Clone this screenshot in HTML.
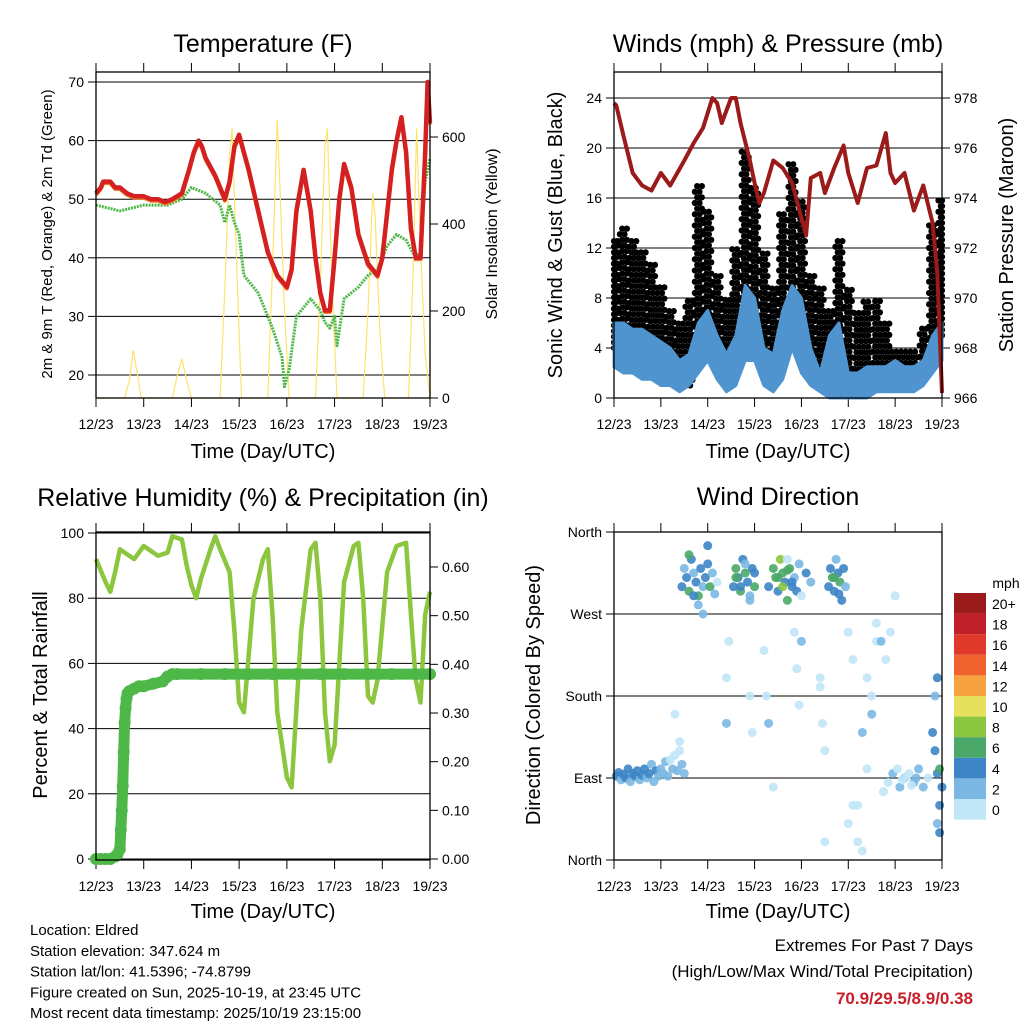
<!DOCTYPE html>
<html><head><meta charset="utf-8"><style>
body{margin:0;background:#fff}
svg{display:block;font-family:"Liberation Sans",Arial,sans-serif}
</style></head><body>
<svg id="c" width="1024" height="1024" viewBox="0 0 1024 1024" xmlns="http://www.w3.org/2000/svg">
<rect width="1024" height="1024" fill="#fff"/>
</svg>
<script>
// ---------- DATA ----------
const dayLabels=["12/23","13/23","14/23","15/23","16/23","17/23","18/23","19/23"];
const tempT=[0,0.1,0.15,0.3,0.4,0.5,0.65,0.8,1.0,1.15,1.3,1.45,1.6,1.8,1.95,2.05,2.15,2.22,2.3,2.5,2.6,2.7,2.8,2.9,3.0,3.1,3.2,3.4,3.6,3.8,4.0,4.1,4.2,4.35,4.5,4.6,4.7,4.8,4.9,5.0,5.1,5.2,5.35,5.5,5.7,5.9,6.0,6.2,6.3,6.4,6.5,6.6,6.7,6.8,6.9,6.95,7.0];
const tempV=[51,52,53,53,52,52,51,50.5,50.5,50,50,49.5,50,51,55,58,60,59,57,54,52,50,53,59,61,58,55,48,41,37,35,38,48,55,48,40,34,31,31,40,50,56,52,44,39,37,40,55,60,64,58,45,40,40,58,70,63];
const dewT=[0,0.5,1.0,1.5,1.8,2.0,2.3,2.6,2.7,2.8,2.9,3.0,3.1,3.4,3.7,3.9,3.95,4.05,4.2,4.5,4.7,4.8,4.9,5.0,5.05,5.2,5.5,5.7,5.9,6.1,6.3,6.5,6.7,6.8,6.9,7.0];
const dewV=[49,48,49,49,50,52,51,49,46,49,46,44,37,34,28,23,18,21,30,33,31,29,28,30,25,33,35,37,38,42,44,43,40,41,53,57];
const solarT=[0,0.6,0.7,0.78,0.86,0.95,1.6,1.7,1.8,1.9,2.0,2.6,2.7,2.8,2.85,2.95,3.05,3.6,3.7,3.8,3.85,3.95,4.05,4.6,4.7,4.8,4.85,4.95,5.05,5.6,5.7,5.8,5.85,5.95,6.05,6.55,6.65,6.72,6.8,6.9,7.0];
const solarV=[0,0,40,110,60,0,0,50,90,40,0,0,250,560,620,300,0,0,300,640,500,200,0,0,260,580,620,250,0,0,200,470,420,150,0,0,300,620,350,100,0];
const windT=[0,0.2,0.4,0.6,0.8,1.0,1.2,1.4,1.6,1.8,2.0,2.2,2.4,2.6,2.8,3.0,3.2,3.4,3.6,3.8,4.0,4.2,4.4,4.6,4.8,5.0,5.2,5.4,5.6,5.8,6.0,6.2,6.4,6.6,6.8,7.0];
const gustLo=[4,5,4,4,3,3,2,1,1,3,5,3,2,2,8,6,3,2,3,7,4,3,2,2,4,1,0.5,0.5,1,1,1,1,1,1.5,3,5];
const gustHi=[13,14,13,12,11,9,7,6,8,17,15,10,8,12,20,17,12,9,15,19,16,10,9,7,13,9,7,8,8,6,4,4,4,6,14,16];
const windLo=[2.5,2,2,1.5,1.5,1,1,0.5,1,2,3,1.5,0.5,1,3,3,1,0.5,1.5,4,2,1,0.5,0,0,0,0,0,0.5,0.5,0.5,0.5,0.5,1,2,3];
const windHi=[6,6,5.5,5.5,5,4.5,4,3,3.5,6,7,5,3.5,5,9,8,4,3.5,7,9,8,4,2,5,6,2,2,2.5,2.5,2.5,3,2.5,2.5,3,5,6];
const presT=[0,0.05,0.2,0.4,0.6,0.8,1.0,1.2,1.5,1.7,1.9,2.1,2.2,2.3,2.5,2.6,2.7,2.9,3.0,3.1,3.2,3.4,3.6,3.8,4.0,4.1,4.2,4.4,4.5,4.7,4.9,5.0,5.2,5.4,5.6,5.8,5.9,6.0,6.2,6.4,6.6,6.8,6.9,7.0];
const presV=[977.8,977.7,976.5,975,974.5,974.3,975,974.5,975.5,976.2,976.8,978,977.8,977,978,978,977,975.5,974.6,973.8,974.2,975.5,975.2,974.6,973.2,972.5,974.8,975,974.2,975.2,976.1,975,973.8,975.2,975.3,976.6,975,974.6,975,973.5,974.5,973,971,966.2];
const rhT=[0,0.2,0.3,0.4,0.5,0.8,1.0,1.3,1.5,1.6,1.8,1.9,2.0,2.1,2.2,2.4,2.5,2.6,2.8,2.9,3.0,3.1,3.3,3.5,3.6,3.7,3.8,4.0,4.1,4.3,4.5,4.6,4.7,4.8,4.9,5.0,5.2,5.4,5.5,5.6,5.7,5.8,5.9,6.1,6.3,6.5,6.6,6.7,6.8,6.9,7.0];
const rhV=[92,85,82,88,95,92,96,93,94,99,98,90,84,80,86,95,99,95,88,70,48,45,80,92,95,75,45,25,22,70,95,97,80,45,30,35,85,96,97,80,50,48,55,88,96,97,75,55,48,75,82];
const pcpT=[0,0.1,0.2,0.3,0.4,0.45,0.5,0.52,0.54,0.56,0.58,0.6,0.62,0.64,0.66,0.7,0.8,0.9,1.0,1.2,1.4,1.5,1.6,1.7,2.2,2.7,3.2,3.7,4.2,4.7,5.2,5.7,6.2,6.7,7.0];
const pcpV=[0,0,0,0,0.005,0.01,0.02,0.06,0.1,0.15,0.22,0.28,0.31,0.33,0.34,0.345,0.35,0.355,0.355,0.36,0.365,0.375,0.38,0.38,0.38,0.38,0.38,0.38,0.38,0.38,0.38,0.38,0.38,0.38,0.38];
const dirT=[0.05,0.1,0.15,0.2,0.25,0.3,0.35,0.4,0.45,0.5,0.55,0.6,0.65,0.7,0.75,0.8,0.85,0.9,0.95,1.0,1.05,1.1,1.15,1.2,1.25,1.3,1.35,1.4,1.45,1.5,
1.45,1.5,1.55,1.6,1.65,1.7,1.75,1.8,1.85,1.9,1.95,2.0,2.05,2.1,2.15,2.2,1.6,1.7,1.8,1.9,2.0,
2.55,2.6,2.65,2.7,2.75,2.8,2.85,2.9,2.95,3.0,2.6,2.7,2.8,2.9,3.0,
3.3,3.4,3.45,3.5,3.55,3.6,3.65,3.7,3.75,3.8,3.85,3.9,3.95,4.0,4.1,4.2,3.5,3.6,3.7,3.8,
4.58,4.62,4.66,4.7,4.74,4.78,4.82,4.86,4.9,4.94,4.7,4.8,
1.3,1.4,2.4,2.4,2.45,3.2,3.25,3.3,3.9,3.95,4.0,4.4,4.45,4.5,5.0,5.1,5.2,5.3,5.4,5.5,5.6,5.3,5.4,5.5,
5.6,5.7,5.8,5.9,6.0,6.1,6.2,6.3,6.4,6.5,6.6,6.7,5.75,5.85,5.95,6.05,6.15,6.25,6.35,6.45,
6.8,6.85,6.9,6.95,6.9,6.95,7.0,6.85,6.9,6.95,3.7,3.85,4.5,5.0,5.1,5.2,2.9,2.95,3.4,4.4];
const dirD=[92,96,88,94,90,100,86,95,92,98,88,93,100,90,95,105,86,98,92,100,95,108,92,110,100,115,98,120,105,95,
300,320,310,295,330,315,305,290,320,300,310,325,300,315,292,305,335,290,280,270,345,
300,320,310,295,330,315,305,285,320,300,310,300,325,290,315,
300,320,310,295,330,315,305,285,320,300,310,295,325,290,315,305,310,300,318,305,
300,320,310,295,330,315,305,285,320,300,310,292,
160,130,200,150,240,230,180,150,210,170,240,190,150,120,250,220,60,140,200,180,240,10,100,160,
260,240,220,250,290,80,90,95,85,100,80,90,75,85,95,100,88,92,82,90,
140,180,200,60,95,100,80,120,40,30,330,250,20,40,60,20,180,140,80,200];
const dirS=[4,4,3,5,4,4,3,4,5,4,3,4,4,3,4,2,3,4,3,2,2,2,3,1,2,1,2,1,2,3,
4,3,5,6,4,3,5,6,4,3,4,5,6,3,2,1,7,5,3,2,4,
5,6,4,7,5,6,4,3,5,7,6,5,2,3,4,
5,7,6,4,8,7,5,6,7,4,3,5,2,1,4,3,7,8,6,5,
4,5,6,4,3,5,6,4,5,3,6,5,
1,0,1,2,0,0,1,2,1,0,2,1,0,1,1,0,1,2,0,1,1,0,0,2,
1,2,1,0,1,2,3,1,2,3,2,1,0,1,2,1,0,1,1,2,
4,3,4,5,4,6,5,4,3,4,1,0,1,0,0,1,0,1,0,1];
const scaleLabels=["20+","18","16","14","12","10","8","6","4","2","0"];
const scaleColors=["#9b1b1b","#c0202a","#e0382a","#f0622e","#f6a33f","#e7e05c","#8cc63f","#4aa868","#3d85c6","#7ab8e3","#c1e6f8"];

// ---------- HELPERS ----------
const svg=document.getElementById('c');
const NS='http://www.w3.org/2000/svg';
function el(tag,attrs,parent,text){const e=document.createElementNS(NS,tag);for(const k in attrs)e.setAttribute(k,attrs[k]);if(text!==undefined)e.textContent=text;(parent||svg).appendChild(e);return e;}
function panel(x0,x1,y0,y1){return {x0,x1,y0,y1,x:d=>x0+(x1-x0)*d/7};}
function linear(v0,p0,v1,p1){return v=>p0+(v-v0)*(p1-p0)/(v1-v0);}
function pathD(xs,ys){return xs.map((x,i)=>(i?'L':'M')+x.toFixed(1)+','+ys[i].toFixed(1)).join('');}
function frame(P,name,title,titleY,xlabelY){
  const t=el('text',{x:(P.x0+P.x1)/2,y:titleY,'text-anchor':'middle','font-size':25},svg,title);
  
  
  dayLabels.forEach((lab,i)=>{
    const x=P.x(i);
    el('line',{x1:x,x2:x,y1:P.y1,y2:P.y1+9,stroke:'#000','stroke-width':1},svg);
    el('line',{x1:x,x2:x,y1:P.y0,y2:P.y0-9,stroke:'#000','stroke-width':1},svg);
    const tl=el('text',{x:x,y:P.y1+31,'text-anchor':'middle','font-size':14},svg,lab);
    
    
  });
  const xl=el('text',{x:(P.x0+P.x1)/2,y:xlabelY,'text-anchor':'middle','font-size':20},svg,'Time (Day/UTC)');
  
  
}
function yTicks(P,vals,fy,side,fmt,grid){
  vals.forEach(v=>{
    const y=fy(v);
    if(grid) el('line',{x1:P.x0,x2:P.x1,y1:y,y2:y,stroke:'#000','stroke-width':1},svg);
    const tx=side==='l'?P.x0-12:P.x1+12;
    const t=el('text',{x:tx,y:y+5,'text-anchor':side==='l'?'end':'start','font-size':14},svg,fmt(v));
    
    
    if(side==='l') el('line',{x1:P.x0,x2:P.x0-8,y1:y,y2:y,stroke:'#000'},svg);
    else el('line',{x1:P.x1,x2:P.x1+8,y1:y,y2:y,stroke:'#000'},svg);
  });
}
function box(P){el('rect',{x:P.x0,y:P.y0,width:P.x1-P.x0,height:P.y1-P.y0,fill:'none',stroke:'#000','stroke-width':1.3},svg);}
function vlabel(x,y,txt,size,name){const t=el('text',{x:x,y:y,'text-anchor':'middle','font-size':size,transform:`rotate(-90 ${x} ${y})`},svg,txt);}

// ---------- PANEL 1 ----------
{
const P=panel(96,430,72,398);
frame(P,'temperature-panel','Temperature (F)',52,458);
const fy=linear(20,375,70,82), fs=linear(0,398,600,137);
yTicks(P,[20,30,40,50,60,70],fy,'l',v=>v,true);
yTicks(P,[0,200,400,600],fs,'r',v=>v,false);
const sol=el('path',{d:pathD(solarT.map(P.x),solarV.map(fs)),fill:'none',stroke:'#fde36a','stroke-width':1.2},svg);


const dw=el('path',{d:pathD(dewT.map(P.x),dewV.map(fy)),fill:'none',stroke:'#4db848','stroke-width':3,'stroke-dasharray':'2 1','stroke-linejoin':'round'},svg);


const or=el('path',{d:pathD(tempT.map(P.x),tempV.map(v=>fy(v)+1.5)),fill:'none',stroke:'#f08030','stroke-width':4,'stroke-linejoin':'round'},svg);


const rd=el('path',{d:pathD(tempT.map(P.x),tempV.map(fy)),fill:'none',stroke:'#d42020','stroke-width':4.5,'stroke-linejoin':'round'},svg);


box(P);
vlabel(52,234,'2m & 9m T (Red, Orange) & 2m Td (Green)',15,'temp-y-axis-title');
vlabel(497,234,'Solar Insolation (Yellow)',16,'solar-y-axis-title');
}
// ---------- PANEL 2 ----------
{
const P=panel(614,942,72,398);
frame(P,'winds-panel','Winds (mph) & Pressure (mb)',52,458);
const fy=linear(0,398,24,98), fp=linear(966,398,978,98);
yTicks(P,[0,4,8,12,16,20,24],fy,'l',v=>v,true);
yTicks(P,[966,968,970,972,974,976,978],fp,'r',v=>v,false);
windT.forEach((t,i)=>{
  for(let k=0;k<4;k++){
    for(let m=gustLo[i]+(k%2)*0.45;m<=gustHi[i];m+=0.9){
      const c=el('circle',{cx:P.x(Math.min(7,Math.max(0,t+(k-1.5)*0.05))),cy:fy(m),r:3.1,fill:'#000'},svg);
      
      
    }
  }
});
const xs=windT.map(P.x);
const wd=pathD(xs,windHi.map(fy))+pathD(xs.slice().reverse(),windLo.slice().reverse().map(fy)).replace('M','L')+'Z';
const w=el('path',{d:wd,fill:'#4f94cf',stroke:'#4f94cf','stroke-width':3,'stroke-linejoin':'round'},svg);


const p=el('path',{d:pathD(presT.map(P.x),presV.map(fp)),fill:'none',stroke:'#9b1a1a','stroke-width':4,'stroke-linejoin':'round'},svg);


box(P);
vlabel(562,235,'Sonic Wind & Gust (Blue, Black)',20,'wind-y-axis-title');
vlabel(1013,235,'Station Pressure (Maroon)',20,'pressure-y-axis-title');
}
// ---------- PANEL 3 ----------
{
const P=panel(96,430,532,860);
frame(P,'humidity-panel','Relative Humidity (%) & Precipitation (in)',506,918);
const fy=linear(0,859,100,533), fp=linear(0,859,0.6,567);
yTicks(P,[0,20,40,60,80,100],fy,'l',v=>v,true);
yTicks(P,[0,0.1,0.2,0.3,0.4,0.5,0.6],fp,'r',v=>v.toFixed(2),false);
const rh=el('path',{d:pathD(rhT.map(P.x),rhV.map(fy)),fill:'none',stroke:'#8cc63f','stroke-width':4.5,'stroke-linejoin':'round'},svg);


const pl=el('path',{d:pathD(pcpT.map(P.x),pcpV.map(fp)),fill:'none',stroke:'#4db848','stroke-width':11,'stroke-linejoin':'round','stroke-linecap':'round'},svg);


pcpT.forEach((t,i)=>{
  const c=el('circle',{cx:P.x(t),cy:fp(pcpV[i]),r:6,fill:'#4db848'},svg);
  
  
});
box(P);
vlabel(47,695,'Percent & Total Rainfall',20,'rh-y-axis-title');
}
// ---------- PANEL 4 ----------
{
const P=panel(614,942,532,860);
frame(P,'wind-direction-panel','Wind Direction',505,918);
const fy=linear(0,860,360,532);
const names={0:'North',90:'East',180:'South',270:'West',360:'North'};
yTicks(P,[0,90,180,270,360],fy,'l',v=>names[v],true);
function col(s){const i=Math.min(10,Math.floor(s/2));return scaleColors[10-i];}
dirT.forEach((t,i)=>{
  const c=el('circle',{cx:P.x(t),cy:fy(dirD[i]),r:4.5,fill:col(dirS[i]),'fill-opacity':0.9},svg);
  
  
});
box(P);
vlabel(540,695,'Direction (Colored By Speed)',20,'direction-y-axis-title');
const cb=el('text',{x:1006,y:588,'text-anchor':'middle','font-size':14},svg,'mph');


scaleLabels.forEach((lab,i)=>{
  const y=593+i*20.6;
  const r=el('rect',{x:954,y:y,width:32,height:20.6,fill:scaleColors[i]},svg);
  
  
  const t=el('text',{x:992,y:y+16,'font-size':14},svg,lab);
  
  
});
}
// ---------- FOOTER ----------
const info=["Location: Eldred","Station elevation: 347.624 m","Station lat/lon: 41.5396; -74.8799","Figure created on Sun, 2025-10-19, at 23:45 UTC","Most recent data timestamp: 2025/10/19 23:15:00"];
info.forEach((s,i)=>{const t=el('text',{x:30,y:935+i*20.8,'font-size':15},svg,s);});
const e1=el('text',{x:973,y:951,'text-anchor':'end','font-size':17},svg,'Extremes For Past 7 Days');


const e2=el('text',{x:973,y:977,'text-anchor':'end','font-size':17},svg,'(High/Low/Max Wind/Total Precipitation)');


const e3=el('text',{x:973,y:1004,'text-anchor':'end','font-size':17,'font-weight':'bold',fill:'#c8202a'},svg,'70.9/29.5/8.9/0.38');


</script>
</body></html>
